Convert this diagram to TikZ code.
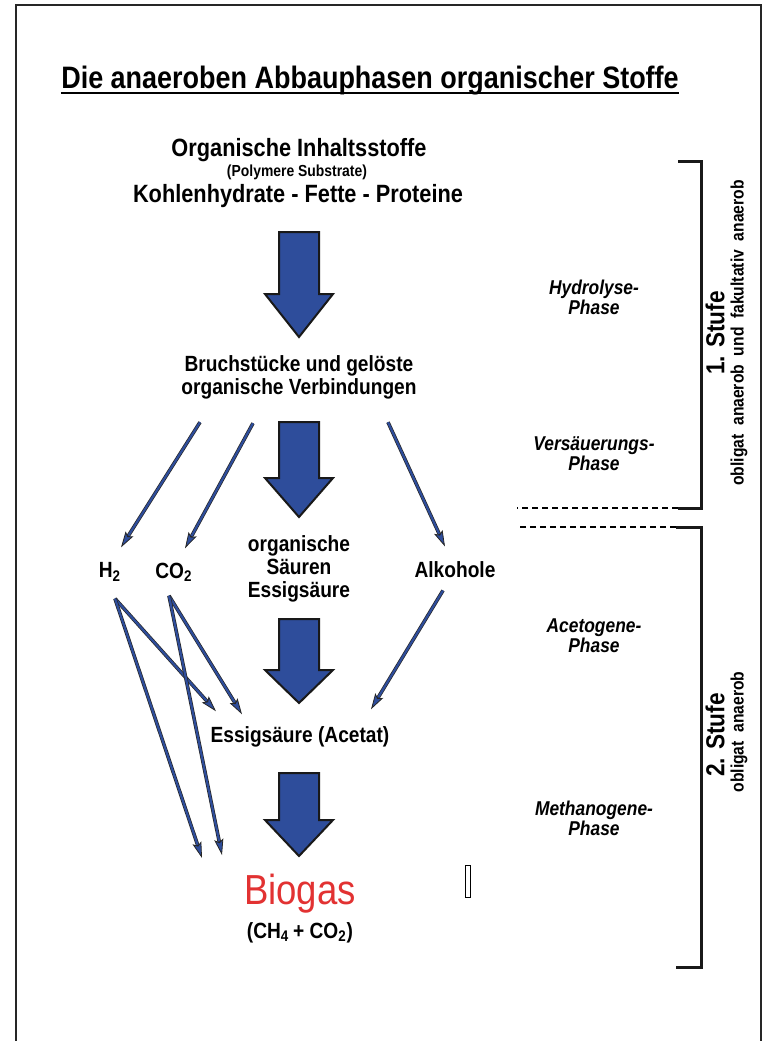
\documentclass[tikz,border=0pt]{standalone}
\usepackage{fontspec}
\setmainfont{Liberation Sans}[FakeStretch=0.87]
\usepackage{tikz}
\usetikzlibrary{positioning,arrows.meta}
\definecolor{pfeilblau}{RGB}{46,77,155}
\definecolor{biorot}{RGB}{226,50,50}
\tikzstyle{stoff} = [font=\bfseries\fontsize{11}{11.5}\selectfont, align=center, inner sep=0pt]
\tikzstyle{gross} = [font=\bfseries\fontsize{12.5}{14}\selectfont, inner sep=0pt]
\tikzstyle{phase} = [font=\bfseries\itshape\fontsize{10}{10}\selectfont, align=center, inner sep=0pt]
\tikzstyle{stufe} = [font=\bfseries\fontsize{13}{14}\selectfont, rotate=90, inner sep=0pt]
\tikzstyle{stufeklein} = [font=\bfseries\fontsize{9}{10}\selectfont, rotate=90, inner sep=0pt]
\tikzstyle{pf} = [draw=black!85, line width=1.8pt, -{Stealth[length=8pt,width=4.6pt,inset=1.5pt,line width=0.4pt,fill=pfeilblau]}, postaction={draw=pfeilblau, line width=1.1pt, -, shorten >=7pt}]
\tikzstyle{blockpf} = [fill=pfeilblau, draw=black!90, line width=1pt, line join=miter]
\tikzstyle{klammer} = [line width=1.5pt, black!90]
\tikzstyle{trenn} = [line width=0.75pt, dash pattern=on 3pt off 2pt]
\tikzstyle{rahmen} = [line width=0.75pt, black!85]
\newcommand{\blockpfeil}[3]{\filldraw[blockpf] (#1) +(-20,0) -- +(-20,#2) -- +(-34,#2) -- +(0,#3) -- +(34,#2) -- +(20,#2) -- +(20,0) -- cycle;}

\begin{document}
\begin{tikzpicture}[x=0.5pt, y=-0.5pt]
	\useasboundingbox (0,0) rectangle (765,1041);
	\draw [rahmen] (16,1041) |- (761,5) -- (761,1041);
	%
	\node (titel) [font=\bfseries\fontsize{15.5}{18}\selectfont, inner sep=0pt, anchor=base] at (370,88) {Die anaeroben Abbauphasen organischer Stoffe};
	\draw [line width=1pt] ([yshift=-2.5pt]titel.base west) -- ([yshift=-2.5pt]titel.base east);
	%
	\node (inhalt) [gross] at (299,150) {Organische Inhaltsstoffe};
	\node (poly) [font=\bfseries\fontsize{8}{10}\selectfont, inner sep=0pt] at (297,172) {(Polymere Substrate)};
	\node (kohlen) [gross] at (298,196) {Kohlenhydrate - Fette - Proteine};
	\node (bruch) [stoff] at (299,377) {Bruchstücke und gelöste\\organische Verbindungen};
	%
	\node (h2) [stoff] at (110,572) {H\textsubscript{2}};
	\node (co2) [stoff] at (174,572) {CO\textsubscript{2}};
	\node (saeuren) [stoff] at (299,569) {organische\\Säuren\\Essigsäure};
	\node (alkohol) [stoff] at (455,570) {Alkohole};
	\node (essig) [stoff] at (300,737) {Essigsäure (Acetat)};
	\node (biogas) [font=\fontsize{21}{24}\selectfont, text=biorot, inner sep=0pt] at (300,894) {Biogas};
	\node (ch4) [stoff] at (300,933) {(CH\textsubscript{4}\,+ CO\textsubscript{2})};
	%
	\blockpfeil{299,232}{62}{105}
	\blockpfeil{299,422}{56}{95}
	\blockpfeil{299,619}{51}{84}
	\blockpfeil{299,773}{47}{83}
	%
	\draw [pf] ([shift={(-99,23)}]bruch.south) -- ([shift={(11,-15)}]h2.north);
	\draw [pf] ([shift={(-46,24)}]bruch.south) -- ([shift={(11,-14)}]co2.north);
	\draw [pf] ([shift={(89,23)}]bruch.south) -- ([shift={(-10,-15)}]alkohol.north);
	\draw [pf] ([shift={(-12,12)}]alkohol.south) -- ([shift={(71,-17)}]essig.north);
	%
	\draw [pf] ([shift={(5,17)}]h2.south) -- ([shift={(-84,-15)}]essig.north);
	\draw [pf] ([shift={(5,17)}]h2.south) -- ([shift={(-98,-16)}]biogas.north);
	\draw [pf] ([shift={(-5,14)}]co2.south) -- ([shift={(-58,-12)}]essig.north);
	\draw [pf] ([shift={(-5,14)}]co2.south) -- ([shift={(-78,-19)}]biogas.north);
	%
	\node (hydro) [phase] at (594,297) {Hydrolyse-\\Phase};
	\node (versaeu) [phase] at (594,454) {Versäuerungs-\\Phase};
	\node (aceto) [phase] at (594,636) {Acetogene-\\Phase};
	\node (methano) [phase] at (594,818) {Methanogene-\\Phase};
	%
	\draw [klammer] (678,161) -| (701,508) -- (678,508);
	\draw [trenn] (678,508) -- (517,508);
	\draw [klammer] (676,527) -| (701,967) -- (676,967);
	\draw [trenn] (676,527) -- (517,527);
	%
	\node (stufe1) [stufe] at (715,333) {1. Stufe};
	\node (stufe1b) [stufeklein] at (739,333) {obligat\ \ anaerob\ \ und\ \ fakultativ\ \ anaerob};
	\node (stufe2) [stufe] at (715,735) {2. Stufe};
	\node (stufe2b) [stufeklein] at (739,732) {obligat\ \ anaerob};
	%
	\draw [line width=0.5pt] (465,865) rectangle (470,897);
\end{tikzpicture}
\end{document}
